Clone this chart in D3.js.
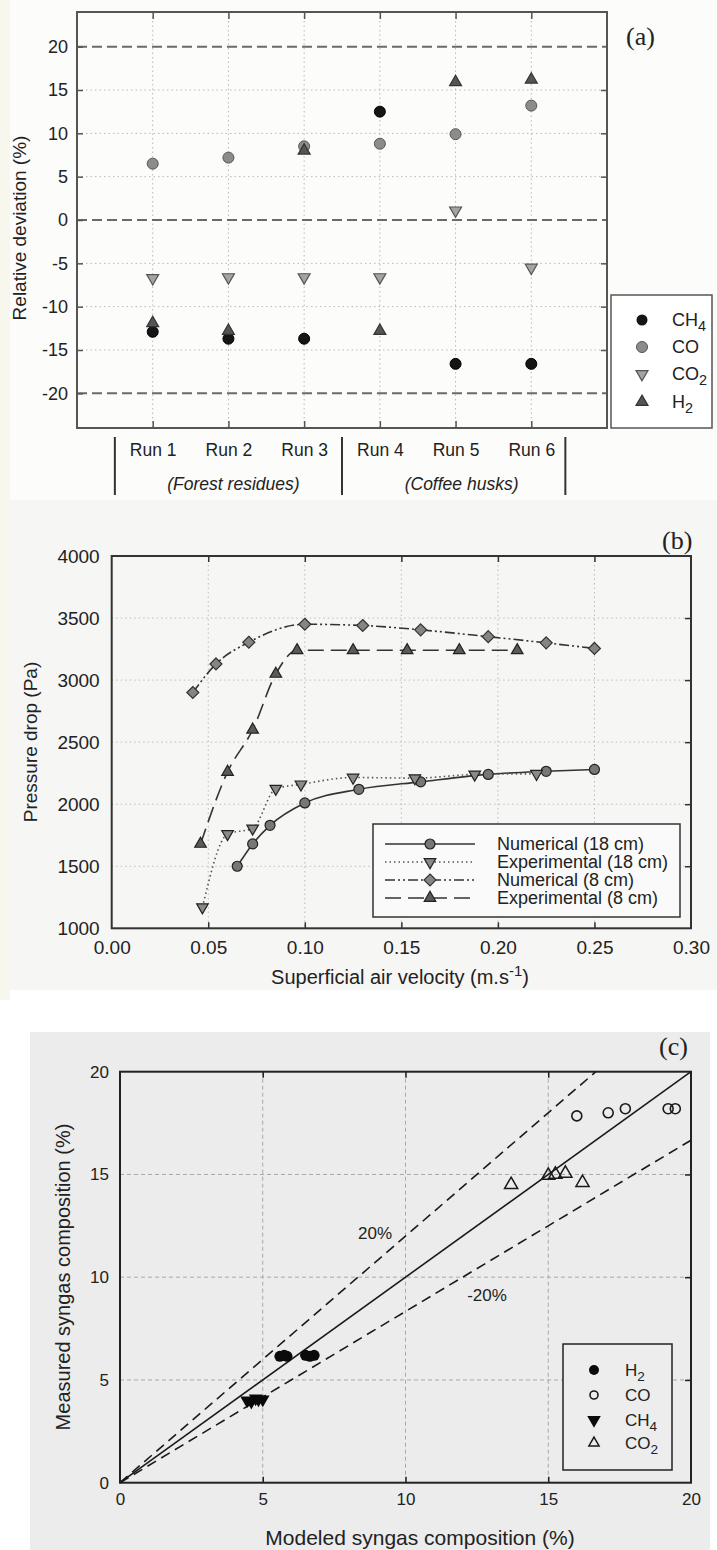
<!DOCTYPE html>
<html>
<head>
<meta charset="utf-8">
<script src="https://cdn.jsdelivr.net/npm/d3@7"></script>
<style>
  body { margin: 0; background: #ffffff; }
  svg { display: block; }
  text { font-family: "Liberation Sans", Arial, sans-serif; fill: #222; }
  .serif { font-family: "Liberation Serif", "DejaVu Serif", serif; }
</style>
</head>
<body>
<svg id="fig" width="717" height="1550" font-family="Liberation Sans, Arial, sans-serif"></svg>
<script>
// ---------- (a) relative deviation per run ----------
const runLabels = ["Run 1", "Run 2", "Run 3", "Run 4", "Run 5", "Run 6"];
const devTicks = [-20, -15, -10, -5, 0, 5, 10, 15, 20];
const ch4Dev = [-12.9, -13.7, -13.7, 12.5, -16.6, -16.6];
const coDev  = [6.5, 7.2, 8.5, 8.8, 9.9, 13.2];
const co2Dev = [-6.7, -6.6, -6.6, -6.6, 1.1, -5.5];
const h2Dev  = [-11.9, -12.8, 8.0, -12.8, 15.9, 16.2];

// ---------- (b) pressure drop vs superficial velocity ----------
const velTicks = [0.00, 0.05, 0.10, 0.15, 0.20, 0.25, 0.30];
const dpTicks = [1000, 1500, 2000, 2500, 3000, 3500, 4000];
const velNum18 = [0.065, 0.073, 0.082, 0.100, 0.128, 0.160, 0.195, 0.225, 0.250];
const dpNum18  = [1500, 1680, 1830, 2010, 2120, 2180, 2240, 2265, 2280];
const velExp18 = [0.047, 0.060, 0.073, 0.085, 0.098, 0.125, 0.157, 0.188, 0.220];
const dpExp18  = [1170, 1760, 1805, 2125, 2160, 2215, 2210, 2240, 2245];
const velNum8  = [0.042, 0.054, 0.071, 0.100, 0.130, 0.160, 0.195, 0.225, 0.250];
const dpNum8   = [2900, 3130, 3305, 3450, 3440, 3405, 3350, 3300, 3255];
const velExp8  = [0.046, 0.060, 0.073, 0.085, 0.096, 0.125, 0.153, 0.180, 0.210];
const dpExp8   = [1680, 2260, 2600, 3050, 3240, 3240, 3240, 3240, 3240];

// ---------- (c) measured vs modeled syngas composition ----------
const compTicks = [0, 5, 10, 15, 20];
const h2Model  = [5.6, 5.75, 5.85, 6.5, 6.65, 6.8];
const h2Meas   = [6.15, 6.2, 6.15, 6.2, 6.15, 6.2];
const coModel  = [16.0, 17.1, 17.7, 19.2, 19.45];
const coMeas   = [17.85, 18.0, 18.2, 18.2, 18.2];
const ch4Model = [4.45, 4.6, 4.75, 4.85, 5.0];
const ch4Meas  = [4.0, 3.95, 4.1, 4.05, 4.05];
const co2Model = [13.7, 15.0, 15.25, 15.6, 16.2];
const co2Meas  = [14.5, 14.95, 15.0, 15.05, 14.6];
const bandFactor = 1.2;

const svg = d3.select("#fig");
const plain = d => String(d);   // hyphen-minus, as in the printed figure

// panel backgrounds
svg.append("rect").attr("x", 0).attr("y", 0).attr("width", 717).attr("height", 500).attr("fill", "#fcfcfb");
svg.append("rect").attr("x", 0).attr("y", 0).attr("width", 10).attr("height", 1000).attr("fill", "#f8f7ee");
svg.append("rect").attr("x", 10).attr("y", 500).attr("width", 707).attr("height", 490).attr("fill", "#f6f6f5");
svg.append("rect").attr("x", 30).attr("y", 1032).attr("width", 680).attr("height", 518).attr("fill", "#ececec");

function triPath(size) {
  return d3.symbol().type(d3.symbolTriangle).size(size)();
}
function diamondPath(r) {
  return `M0,${-r}L${r},0L0,${r}L${-r},0Z`;
}
function sub(textSel, main, s, shift) {
  textSel.append("tspan").text(main);
  textSel.append("tspan").attr("font-size", "0.8em").attr("dy", shift).text(s);
}

// ======================= (a) =======================
{
  const L = 77, R = 607, T = 12, B = 428;
  const x = d3.scaleLinear().domain([0, 7]).range([L, R]);
  const y = d3.scaleLinear().domain([-24, 24]).range([B, T]);
  const g = svg.append("g");
  const runIdx = d3.range(1, 7);

  // dotted grid
  g.selectAll(".vg").data(runIdx).join("line")
    .attr("x1", d => x(d)).attr("x2", d => x(d)).attr("y1", T).attr("y2", B)
    .attr("stroke", "#b8b8b8").attr("stroke-width", 1).attr("stroke-dasharray", "1.5,3");
  g.selectAll(".hg").data([-15, -10, -5, 5, 10, 15]).join("line")
    .attr("x1", L).attr("x2", R).attr("y1", d => y(d)).attr("y2", d => y(d))
    .attr("stroke", "#b8b8b8").attr("stroke-width", 1).attr("stroke-dasharray", "1.5,3");
  // limits
  g.selectAll(".lim").data([-20, 0, 20]).join("line")
    .attr("x1", L).attr("x2", R).attr("y1", d => y(d)).attr("y2", d => y(d))
    .attr("stroke", "#6a6a6a").attr("stroke-width", 2).attr("stroke-dasharray", "10,5");

  const axL = g.append("g").attr("transform", `translate(${L},0)`)
    .call(d3.axisLeft(y).tickValues(devTicks).tickSizeInner(-6).tickSizeOuter(0).tickPadding(9).tickFormat(plain));
  axL.selectAll("text").attr("font-size", 18).attr("fill", "#222");
  const axR = g.append("g").attr("transform", `translate(${R},0)`)
    .call(d3.axisRight(y).tickValues([-15, -10, -5, 5, 10, 15]).tickSizeInner(-6).tickSizeOuter(0).tickFormat(""));
  const axT = g.append("g").attr("transform", `translate(0,${T})`)
    .call(d3.axisTop(x).tickValues(runIdx).tickSizeInner(-7).tickSizeOuter(0).tickFormat(""));
  const axB = g.append("g").attr("transform", `translate(0,${B})`)
    .call(d3.axisBottom(x).tickValues(runIdx).tickSizeInner(-7).tickSizeOuter(0).tickPadding(16)
      .tickFormat(d => runLabels[d - 1]));
  axB.selectAll("text").attr("font-size", 17.5).attr("fill", "#222");
  [axL, axR, axT, axB].forEach(a => { a.select(".domain").remove(); a.selectAll("line").attr("stroke", "#555").attr("stroke-width", 1.5); });

  g.append("rect").attr("x", L).attr("y", T).attr("width", R - L).attr("height", B - T)
    .attr("fill", "none").attr("stroke", "#555").attr("stroke-width", 2);

  // markers
  const triA = triPath(62);
  g.selectAll(".ch4").data(ch4Dev).join("circle")
    .attr("cx", (d, i) => x(i + 1)).attr("cy", d => y(d)).attr("r", 5.5)
    .attr("fill", "#151515").attr("stroke", "#000");
  g.selectAll(".co").data(coDev).join("circle")
    .attr("cx", (d, i) => x(i + 1)).attr("cy", d => y(d)).attr("r", 5.5)
    .attr("fill", "#8c8c8c").attr("stroke", "#555");
  g.selectAll(".co2").data(co2Dev).join("path")
    .attr("d", triA).attr("transform", (d, i) => `translate(${x(i + 1)},${y(d)}) rotate(180)`)
    .attr("fill", "#a4a4a4").attr("stroke", "#555").attr("stroke-width", 1.2);
  g.selectAll(".h2").data(h2Dev).join("path")
    .attr("d", triA).attr("transform", (d, i) => `translate(${x(i + 1)},${y(d)})`)
    .attr("fill", "#555").attr("stroke", "#333").attr("stroke-width", 1.2);

  // group separators and labels
  [0.5, 3.5, 6.45].forEach(v => {
    g.append("line").attr("x1", x(v)).attr("x2", x(v)).attr("y1", 437).attr("y2", 495)
      .attr("stroke", "#333").attr("stroke-width", 2);
  });
  g.append("text").attr("x", x(2) + 5).attr("y", 490).attr("text-anchor", "middle")
    .attr("font-size", 17.5).attr("font-style", "italic").text("(Forest residues)");
  g.append("text").attr("x", x(5) + 6).attr("y", 490).attr("text-anchor", "middle")
    .attr("font-size", 17.5).attr("font-style", "italic").text("(Coffee husks)");

  g.append("text").attr("transform", `translate(26,${(T + B) / 2 + 8}) rotate(-90)`)
    .attr("text-anchor", "middle").attr("font-size", 19).text("Relative deviation (%)");

  g.append("text").attr("class", "serif").attr("x", 626).attr("y", 45).attr("font-size", 26).text("(a)");

  // legend
  const lg = g.append("g");
  lg.append("rect").attr("x", 611).attr("y", 295).attr("width", 101).attr("height", 133)
    .attr("fill", "#fff").attr("stroke", "#555").attr("stroke-width", 1.5);
  const ly = [320, 347, 374, 402];
  lg.append("circle").attr("cx", 642).attr("cy", ly[0]).attr("r", 5.5).attr("fill", "#151515");
  lg.append("circle").attr("cx", 642).attr("cy", ly[1]).attr("r", 5.5).attr("fill", "#8c8c8c").attr("stroke", "#555");
  lg.append("path").attr("d", triA).attr("transform", `translate(642,${ly[2]}) rotate(180)`)
    .attr("fill", "#a4a4a4").attr("stroke", "#555").attr("stroke-width", 1.2);
  lg.append("path").attr("d", triA).attr("transform", `translate(642,${ly[3]})`)
    .attr("fill", "#555").attr("stroke", "#333").attr("stroke-width", 1.2);
  const lt = (i) => lg.append("text").attr("x", 672).attr("y", ly[i] + 6).attr("font-size", 18);
  sub(lt(0), "CH", "4", 5);
  lt(1).text("CO");
  sub(lt(2), "CO", "2", 5);
  sub(lt(3), "H", "2", 5);
}

// ======================= (b) =======================
{
  const L = 111.7, R = 691, T = 556, B = 928.3;
  const x = d3.scaleLinear().domain([0, 0.3]).range([L, R]);
  const y = d3.scaleLinear().domain([1000, 4000]).range([B, T]);
  const g = svg.append("g");

  g.selectAll(".vg").data(velTicks.slice(1, -1)).join("line")
    .attr("x1", d => x(d)).attr("x2", d => x(d)).attr("y1", T).attr("y2", B)
    .attr("stroke", "#bcbcbc").attr("stroke-dasharray", "1.5,3");
  g.selectAll(".hg").data(dpTicks.slice(1, -1)).join("line")
    .attr("x1", L).attr("x2", R).attr("y1", d => y(d)).attr("y2", d => y(d))
    .attr("stroke", "#bcbcbc").attr("stroke-dasharray", "1.5,3");

  const axL = g.append("g").attr("transform", `translate(${L},0)`)
    .call(d3.axisLeft(y).tickValues(dpTicks).tickSize(0).tickPadding(12).tickFormat(d3.format("d")));
  axL.selectAll("text").attr("font-size", 19).attr("fill", "#222");
  const axB = g.append("g").attr("transform", `translate(0,${B})`)
    .call(d3.axisBottom(x).tickValues(velTicks).tickSizeInner(-6).tickSizeOuter(0).tickPadding(12).tickFormat(d3.format(".2f")));
  axB.selectAll("text").attr("font-size", 19).attr("fill", "#222");
  const axT = g.append("g").attr("transform", `translate(0,${T})`)
    .call(d3.axisTop(x).tickValues(velTicks.slice(1, -1)).tickSizeInner(-6).tickSizeOuter(0).tickFormat(""));
  const axR = g.append("g").attr("transform", `translate(${R},0)`)
    .call(d3.axisRight(y).tickValues(dpTicks.slice(1, -1)).tickSizeInner(-6).tickSizeOuter(0).tickFormat(""));
  [axL, axR, axT, axB].forEach(a => { a.select(".domain").remove(); a.selectAll("line").attr("stroke", "#333").attr("stroke-width", 1.5); });
  axB.selectAll(".tick").filter(d => d === 0 || d === 0.3).select("line").remove();

  g.append("rect").attr("x", L).attr("y", T).attr("width", R - L).attr("height", B - T)
    .attr("fill", "none").attr("stroke", "#333").attr("stroke-width", 2);

  const line = d3.line().x(d => x(d[0])).y(d => y(d[1])).curve(d3.curveMonotoneX);
  const series = [
    { v: velNum18, p: dpNum18, dash: null, mark: "circle" },
    { v: velExp18, p: dpExp18, dash: "1.5,3", mark: "down" },
    { v: velNum8, p: dpNum8, dash: "10,3,2,3,2,3", mark: "diamond" },
    { v: velExp8, p: dpExp8, dash: "16,7", mark: "up" }
  ];
  const triB = triPath(58);
  function marker(sel, kind, cx, cy) {
    if (kind === "circle") {
      sel.append("circle").attr("cx", cx).attr("cy", cy).attr("r", 5)
        .attr("fill", "#777").attr("stroke", "#222").attr("stroke-width", 1.2);
    } else if (kind === "diamond") {
      sel.append("path").attr("d", diamondPath(6)).attr("transform", `translate(${cx},${cy})`)
        .attr("fill", "#858585").attr("stroke", "#333").attr("stroke-width", 1.2);
    } else {
      sel.append("path").attr("d", triB)
        .attr("transform", `translate(${cx},${cy})` + (kind === "down" ? " rotate(180)" : ""))
        .attr("fill", kind === "down" ? "#8a8a8a" : "#5a5a5a").attr("stroke", "#222").attr("stroke-width", 1.2);
    }
  }
  series.forEach(s => {
    const pts = s.v.map((v, i) => [v, s.p[i]]);
    g.append("path").attr("d", line(pts)).attr("fill", "none")
      .attr("stroke", s.dash === "1.5,3" ? "#555" : "#333").attr("stroke-width", 1.6)
      .attr("stroke-dasharray", s.dash);
  });
  series.forEach(s => {
    s.v.forEach((v, i) => marker(g, s.mark, x(v), y(s.p[i])));
  });

  // legend
  const lg = g.append("g");
  lg.append("rect").attr("x", 373).attr("y", 824).attr("width", 307).attr("height", 93)
    .attr("fill", "#fafafa").attr("stroke", "#333").attr("stroke-width", 1.5);
  const names = ["Numerical (18 cm)", "Experimental (18 cm)", "Numerical (8 cm)", "Experimental (8 cm)"];
  const ly = [844, 862, 880, 898];
  series.forEach((s, i) => {
    lg.append("line").attr("x1", 385).attr("x2", 475).attr("y1", ly[i]).attr("y2", ly[i])
      .attr("stroke", s.dash === "1.5,3" ? "#555" : "#333").attr("stroke-width", 1.6).attr("stroke-dasharray", s.dash);
    marker(lg, s.mark, 430, ly[i]);
    lg.append("text").attr("x", 497).attr("y", ly[i] + 6).attr("font-size", 18).text(names[i]);
  });

  const xl = g.append("text").attr("x", 400).attr("y", 984).attr("text-anchor", "middle").attr("font-size", 20);
  xl.append("tspan").text("Superficial air velocity (m.s");
  xl.append("tspan").attr("font-size", "0.75em").attr("dy", -8).text("-1");
  xl.append("tspan").attr("dy", 8).text(")");

  g.append("text").attr("transform", `translate(37,742) rotate(-90)`)
    .attr("text-anchor", "middle").attr("font-size", 19).text("Pressure drop (Pa)");

  g.append("text").attr("class", "serif").attr("x", 662).attr("y", 549).attr("font-size", 26).text("(b)");
}

// ======================= (c) =======================
{
  const L = 120, R = 691, T = 1071.7, B = 1482.7;
  const x = d3.scaleLinear().domain([0, 20]).range([L, R]);
  const y = d3.scaleLinear().domain([0, 20]).range([B, T]);
  const g = svg.append("g");

  g.selectAll(".vg").data([5, 10, 15]).join("line")
    .attr("x1", d => x(d)).attr("x2", d => x(d)).attr("y1", T).attr("y2", B)
    .attr("stroke", "#a8a8a8").attr("stroke-dasharray", "4,3");
  g.selectAll(".hg").data([5, 10, 15]).join("line")
    .attr("x1", L).attr("x2", R).attr("y1", d => y(d)).attr("y2", d => y(d))
    .attr("stroke", "#a8a8a8").attr("stroke-dasharray", "4,3");

  const axL = g.append("g").attr("transform", `translate(${L},0)`)
    .call(d3.axisLeft(y).tickValues(compTicks).tickSize(0).tickPadding(11).tickFormat(plain));
  axL.selectAll("text").attr("font-size", 17).attr("fill", "#222");
  const axB = g.append("g").attr("transform", `translate(0,${B})`)
    .call(d3.axisBottom(x).tickValues(compTicks).tickSizeInner(-6).tickSizeOuter(0).tickPadding(10).tickFormat(plain));
  axB.selectAll("text").attr("font-size", 17).attr("fill", "#222");
  const axT = g.append("g").attr("transform", `translate(0,${T})`)
    .call(d3.axisTop(x).tickValues([5, 10, 15]).tickSizeInner(-6).tickSizeOuter(0).tickFormat(""));
  const axR = g.append("g").attr("transform", `translate(${R},0)`)
    .call(d3.axisRight(y).tickValues([5, 10, 15]).tickSizeInner(-6).tickSizeOuter(0).tickFormat(""));
  [axL, axR, axT, axB].forEach(a => { a.select(".domain").remove(); a.selectAll("line").attr("stroke", "#222").attr("stroke-width", 1.5); });
  axB.selectAll(".tick").filter(d => d === 0 || d === 20).select("line").remove();

  g.append("rect").attr("x", L).attr("y", T).attr("width", R - L).attr("height", B - T)
    .attr("fill", "none").attr("stroke", "#222").attr("stroke-width", 2);

  // parity line and ±20 % band
  const ln = d3.line().x(d => x(d[0])).y(d => y(d[1]));
  g.append("path").attr("d", ln([[0, 0], [20, 20]])).attr("stroke", "#1a1a1a").attr("stroke-width", 1.6).attr("fill", "none");
  g.append("path").attr("d", ln([[0, 0], [20 / bandFactor, 20]])).attr("stroke", "#1a1a1a").attr("stroke-width", 1.6)
    .attr("fill", "none").attr("stroke-dasharray", "10,6");
  g.append("path").attr("d", ln([[0, 0], [20, 20 / bandFactor]])).attr("stroke", "#1a1a1a").attr("stroke-width", 1.6)
    .attr("fill", "none").attr("stroke-dasharray", "10,6");
  g.append("text").attr("x", 375).attr("y", 1239).attr("text-anchor", "middle").attr("font-size", 17).text("20%");
  g.append("text").attr("x", 487).attr("y", 1301).attr("text-anchor", "middle").attr("font-size", 17).text("-20%");

  const tdn = triPath(80), tup = triPath(75);
  h2Model.forEach((v, i) => g.append("circle").attr("cx", x(v)).attr("cy", y(h2Meas[i])).attr("r", 5.5).attr("fill", "#0a0a0a"));
  coModel.forEach((v, i) => g.append("circle").attr("cx", x(v)).attr("cy", y(coMeas[i])).attr("r", 5)
    .attr("fill", "none").attr("stroke", "#1a1a1a").attr("stroke-width", 1.6));
  ch4Model.forEach((v, i) => g.append("path").attr("d", tdn)
    .attr("transform", `translate(${x(v)},${y(ch4Meas[i])}) rotate(180)`).attr("fill", "#0a0a0a"));
  co2Model.forEach((v, i) => g.append("path").attr("d", tup)
    .attr("transform", `translate(${x(v)},${y(co2Meas[i])})`).attr("fill", "none").attr("stroke", "#1a1a1a").attr("stroke-width", 1.5));

  // legend
  const lg = g.append("g");
  lg.append("rect").attr("x", 563).attr("y", 1344).attr("width", 109).attr("height", 126)
    .attr("fill", "#ededed").attr("stroke", "#222").attr("stroke-width", 1.5);
  const ly = [1370, 1395, 1420, 1443];
  lg.append("circle").attr("cx", 594).attr("cy", ly[0]).attr("r", 5).attr("fill", "#0a0a0a");
  lg.append("circle").attr("cx", 594).attr("cy", ly[1]).attr("r", 4).attr("fill", "none").attr("stroke", "#1a1a1a").attr("stroke-width", 1.6);
  lg.append("path").attr("d", tdn).attr("transform", `translate(594,${ly[2]}) rotate(180)`).attr("fill", "#0a0a0a");
  lg.append("path").attr("d", triPath(45)).attr("transform", `translate(594,${ly[3]})`)
    .attr("fill", "none").attr("stroke", "#1a1a1a").attr("stroke-width", 1.5);
  const lt = (i) => lg.append("text").attr("x", 625).attr("y", ly[i] + 6).attr("font-size", 17);
  sub(lt(0), "H", "2", 5);
  lt(1).text("CO");
  sub(lt(2), "CH", "4", 5);
  sub(lt(3), "CO", "2", 5);

  g.append("text").attr("x", 420).attr("y", 1545).attr("text-anchor", "middle").attr("font-size", 21)
    .text("Modeled syngas composition (%)");
  g.append("text").attr("transform", `translate(70,1277) rotate(-90)`)
    .attr("text-anchor", "middle").attr("font-size", 20).text("Measured syngas composition (%)");

  g.append("text").attr("class", "serif").attr("x", 659).attr("y", 1055).attr("font-size", 26).text("(c)");
}
</script>
</body>
</html>
